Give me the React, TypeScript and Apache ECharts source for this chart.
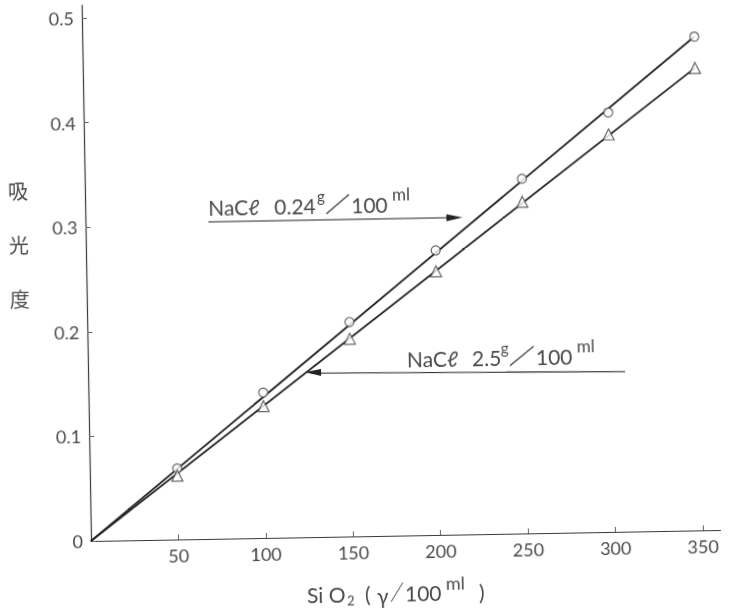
import React, { useEffect, useRef } from "react";
import * as echarts from "echarts";

// ---- data ----
const xTickValues = [50, 100, 150, 200, 250, 300, 350];
const yTickValues = [0, 0.1, 0.2, 0.3, 0.4, 0.5];
const sio2 = [50, 100, 150, 200, 250, 300, 350];
// NaCl 0.24 g/100ml (open circles)
const absNaClLow = [0.068, 0.139, 0.205, 0.272, 0.339, 0.401, 0.472];
// NaCl 2.5 g/100ml (open triangles)
const absNaClHigh = [0.061, 0.126, 0.189, 0.252, 0.317, 0.38, 0.442];
// straight calibration lines (from origin to last point)
const fitX = [0, 350];
const fitLow = [0, 0.472];
const fitHigh = [0, 0.442];

const FONT = "Lato, 'DejaVu Sans', sans-serif";
const TXT = "#4a4a4a";
const INK = "#222";

function txt(text: string, x: number, y: number, size: number, extra: any = {}) {
  return {
    type: "text",
    x,
    y,
    silent: true,
    style: {
      text,
      fontSize: size,
      fontFamily: FONT,
      fill: TXT,
      verticalAlign: "middle",
      align: "left",
      ...extra,
    },
  };
}

function seg(x1: number, y1: number, x2: number, y2: number, w = 1.3, c = INK) {
  return {
    type: "line",
    silent: true,
    shape: { x1, y1, x2, y2 },
    style: { stroke: c, lineWidth: w },
  };
}

export default function App() {
  const ref = useRef<HTMLDivElement>(null);
  useEffect(() => {
    document.body.style.margin = "0";
    document.body.style.overflow = "hidden";
    document.documentElement.style.overflow = "hidden";
    const chart = echarts.init(ref.current!, null, { renderer: "svg" });
    const option: any = {
      animation: false,
      backgroundColor: "#fff",
      grid: { left: 91, right: 10.5, top: 5, bottom: 79 },
      xAxis: {
        type: "value",
        min: 0,
        max: 360,
        interval: 50,
        axisLine: { lineStyle: { color: "#3a3a3a", width: 1.2 } },
        axisTick: {
          inside: true,
          length: 5,
          customValues: xTickValues,
          lineStyle: { color: "#666" },
        },
        axisLabel: {
          customValues: xTickValues,
          margin: 7,
          fontSize: 18,
          color: TXT,
          fontFamily: FONT,
        },
        splitLine: { show: false },
      },
      yAxis: {
        type: "value",
        min: 0,
        max: 0.5124,
        axisLine: { lineStyle: { color: "#3a3a3a", width: 1.2 } },
        axisTick: {
          inside: true,
          length: 5,
          customValues: yTickValues,
          lineStyle: { color: "#666" },
        },
        axisLabel: {
          customValues: yTickValues,
          margin: 8,
          fontSize: 18,
          color: TXT,
          fontFamily: FONT,
          formatter: (v: number) => (v === 0 ? "0" : v.toFixed(1)),
        },
        splitLine: { show: false },
      },
      series: [
        {
          type: "line",
          data: fitX.map((x, i) => [x, fitLow[i]]),
          symbol: "none",
          lineStyle: { color: INK, width: 1.8 },
          z: 2,
        },
        {
          type: "line",
          data: fitX.map((x, i) => [x, fitHigh[i]]),
          symbol: "none",
          lineStyle: { color: INK, width: 1.8 },
          z: 2,
        },
        {
          type: "scatter",
          data: sio2.map((x, i) => [x, absNaClLow[i]]),
          symbol: "circle",
          symbolSize: 9,
          itemStyle: { color: "#fff", borderColor: "#444", borderWidth: 1.2 },
          z: 3,
        },
        {
          type: "scatter",
          data: sio2.map((x, i) => [x, absNaClHigh[i]]),
          symbol: "triangle",
          symbolSize: 11,
          itemStyle: { color: "#fff", borderColor: "#444", borderWidth: 1.2 },
          z: 3,
        },
      ],
      graphic: [
        // y axis title
        txt("吸", 14, 189, 20, { fontFamily: "'Noto Sans CJK JP', sans-serif" }),
        txt("光", 14, 243, 20, { fontFamily: "'Noto Sans CJK JP', sans-serif" }),
        txt("度", 14, 297, 20, { fontFamily: "'Noto Sans CJK JP', sans-serif" }),
        // x axis title  SiO2 (γ/100ml)
        txt("Si O", 306, 598, 21),
        txt("2", 346, 605, 13),
        txt("(", 364, 598, 21),
        txt("γ", 376, 600, 21),
        seg(390, 607, 402, 588, 1, TXT),
        txt("100", 404, 598, 21),
        txt("ml", 445, 589, 18),
        txt(")", 478, 598, 21),
        // annotation 1: NaCl 0.24 g/100ml
        txt("NaCℓ", 214, 209, 21),
        txt("0.24", 280, 209, 21),
        txt("g", 323, 200, 15),
        seg(332, 218, 355, 199, 1.1, "#333"),
        txt("100", 357, 209, 21),
        txt("ml", 398, 199, 17),
        seg(214, 224, 462, 224, 1.2),
        {
          type: "polygon",
          silent: true,
          shape: { points: [[468, 224], [452, 220.5], [452, 227.5]] },
          style: { fill: INK },
        },
        // annotation 2: NaCl 2.5 g/100ml
        txt("NaCℓ", 410, 364, 21),
        txt("2.5", 475, 364, 21),
        txt("g", 504, 355, 15),
        seg(513, 373, 537, 354, 1.1, "#333"),
        txt("100", 539, 364, 21),
        txt("ml", 580, 354, 17),
        seg(314, 377, 628, 381, 1.2),
        {
          type: "polygon",
          silent: true,
          shape: { points: [[308, 376], [324, 373], [324, 380]] },
          style: { fill: INK },
        },
      ],
    };
    chart.setOption(option);
    return () => chart.dispose();
  }, []);
  return (
    <div
      ref={ref}
      style={{
        position: "fixed",
        left: 0,
        top: 0,
        width: 731,
        height: 620,
        transform: "rotate(-1deg)",
        transformOrigin: "91px 541px",
      }}
    />
  );
}
